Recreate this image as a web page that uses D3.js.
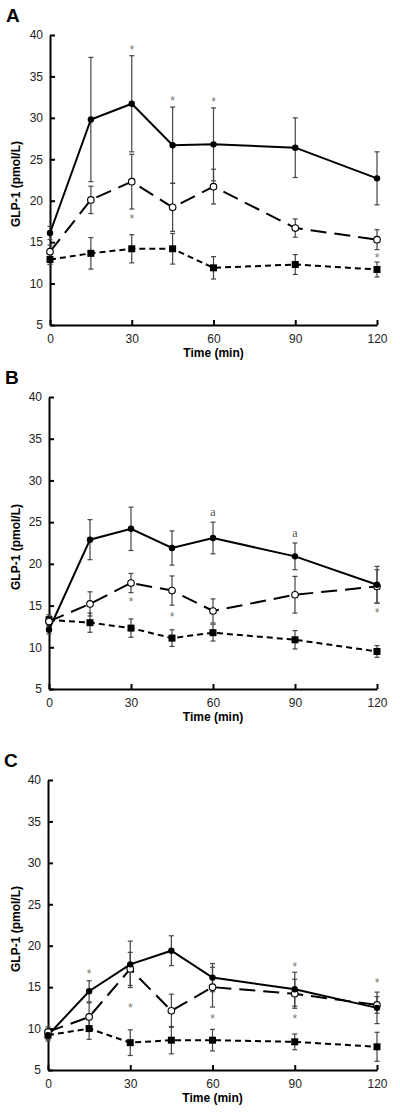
<!DOCTYPE html>
<html><head><meta charset="utf-8">
<script src="https://cdn.jsdelivr.net/npm/d3@7"></script>
<style>body{margin:0;background:#fff}svg{display:block}</style>
</head><body>
<script>
const times = [0, 15, 30, 45, 60, 90, 120];
const xTicks = [0, 30, 60, 90, 120];
const yTicks = [5, 10, 15, 20, 25, 30, 35, 40];
const panelLabels = ["A", "B", "C"];

// Panel A
const aSolid = [16.1, 29.8, 31.7, 26.7, 26.8, 26.4, 22.7];
const aSolidSE = [0.8, 7.5, 5.8, 4.6, 4.4, 3.6, 3.2];
const aOpen = [13.85, 20.1, 22.3, 19.2, 21.7, 16.7, 15.3];
const aOpenSE = [0.8, 1.65, 3.3, 2.9, 2.1, 1.1, 1.2];
const aSquare = [12.9, 13.65, 14.2, 14.2, 11.9, 12.3, 11.7];
const aSquareSE = [0.6, 1.9, 1.7, 1.85, 1.35, 1.2, 0.9];
const aMarks = [{t:30,v:38.4,s:"*"},{t:45,v:32.3,s:"*"},{t:60,v:32.2,s:"*"},{t:30,v:18.0,s:"*"},{t:120,v:13.3,s:"*"}];

// Panel B
const bSolid = [12.1, 22.9, 24.2, 21.9, 23.1, 20.9, 17.5];
const bSolidSE = [0.5, 2.4, 2.6, 2.05, 1.9, 1.6, 2.2];
const bOpen = [13.1, 15.2, 17.7, 16.8, 14.35, 16.3, 17.3];
const bOpenSE = [0.6, 1.45, 1.15, 1.75, 1.45, 2.2, 2.0];
const bSquare = [13.3, 12.95, 12.3, 11.1, 11.75, 10.9, 9.5];
const bSquareSE = [0.6, 1.15, 1.1, 1.0, 1.0, 1.1, 0.7];
const bMarks = [{t:60,v:26.1,s:"a"},{t:90,v:23.6,s:"a"},{t:30,v:15.7,s:"*"},{t:45,v:13.9,s:"*"},{t:60,v:12.8,s:"*"},{t:120,v:14.3,s:"*"}];

// Panel C
const cSolid = [9.2, 14.5, 17.75, 19.4, 16.15, 14.75, 12.5];
const cSolidSE = [0.5, 1.27, 2.8, 1.8, 1.7, 2.05, 1.9];
const cOpen = [9.6, 11.4, 17.2, 12.15, 15.0, 14.2, 12.85];
const cOpenSE = [0.6, 1.7, 2.0, 2.0, 2.4, 1.75, 1.0];
const cSquare = [9.2, 10.0, 8.3, 8.6, 8.6, 8.4, 7.8];
const cSquareSE = [0.7, 1.3, 1.55, 1.65, 1.3, 0.95, 1.75];
const cMarks = [{t:15,v:16.8,s:"*"},{t:30,v:12.7,s:"*"},{t:60,v:11.4,s:"*"},{t:90,v:17.7,s:"*"},{t:90,v:11.4,s:"*"},{t:120,v:15.8,s:"*"}];

const panels = [
  {label: panelLabels[0], solid:aSolid, solidSE:aSolidSE, open:aOpen, openSE:aOpenSE, sq:aSquare, sqSE:aSquareSE, marks:aMarks,
   top:35, bottom:325, left:50, right:377, letterX:6, letterY:22},
  {label: panelLabels[1], solid:bSolid, solidSE:bSolidSE, open:bOpen, openSE:bOpenSE, sq:bSquare, sqSE:bSquareSE, marks:bMarks,
   top:397, bottom:689, left:49, right:377, letterX:5, letterY:384},
  {label: panelLabels[2], solid:cSolid, solidSE:cSolidSE, open:cOpen, openSE:cOpenSE, sq:cSquare, sqSE:cSquareSE, marks:cMarks,
   top:780, bottom:1070, left:48, right:377, letterX:4, letterY:767}
];

const svg = d3.select("body").append("svg").attr("width", 400).attr("height", 1112)
  .style("font-family", "'Liberation Sans', Arial, Helvetica, sans-serif");

panels.forEach(p => {
  const x = d3.scaleLinear().domain([0, 120]).range([p.left, p.right]);
  const y = d3.scaleLinear().domain([5, 40]).range([p.bottom, p.top]);
  const g = svg.append("g");

  g.append("text").attr("x", p.letterX).attr("y", p.letterY).text(p.label)
    .attr("font-size", 19).attr("font-weight", "bold").attr("fill", "#000");

  // axes
  const yAxis = d3.axisLeft(y).tickValues(yTicks).tickSizeInner(-5).tickSizeOuter(0).tickPadding(7);
  const xAxis = d3.axisBottom(x).tickValues(xTicks).tickSizeInner(-5).tickSizeOuter(0).tickPadding(9);
  const ya = g.append("g").attr("transform", `translate(${p.left},0)`).call(yAxis);
  const xa = g.append("g").attr("transform", `translate(0,${p.bottom})`).call(xAxis);
  [ya, xa].forEach(a => {
    a.select(".domain").attr("stroke", "#000").attr("stroke-width", 2);
    a.selectAll(".tick line").attr("stroke", "#000").attr("stroke-width", 2);
    a.selectAll(".tick text").attr("font-size", 12).attr("fill", "#222").attr("font-family", "'Liberation Sans', Arial, sans-serif");
  });

  g.append("text").attr("x", (p.left + p.right) / 2).attr("y", p.bottom + 32)
    .attr("text-anchor", "middle").attr("font-size", 12).attr("font-weight", "bold").text("Time (min)");
  g.append("text").attr("transform", `translate(20,${(p.top + p.bottom) / 2 + 4}) rotate(-90)`)
    .attr("text-anchor", "middle").attr("font-size", 12).attr("font-weight", "bold").text("GLP-1 (pmol/L)");

  const series = [
    {vals:p.sq, se:p.sqSE, dash:"6,4", type:"square"},
    {vals:p.open, se:p.openSE, dash:"16,8", type:"open"},
    {vals:p.solid, se:p.solidSE, dash:null, type:"solid"}
  ];

  // error bars
  series.forEach(s => {
    const eb = g.append("g").attr("stroke", "#444").attr("stroke-width", 1.2);
    times.forEach((t, i) => {
      const lo = y(s.vals[i] - s.se[i]), hi = y(s.vals[i] + s.se[i]), cx = x(t);
      eb.append("line").attr("x1", cx).attr("x2", cx).attr("y1", lo).attr("y2", hi);
      eb.append("line").attr("x1", cx - 2.5).attr("x2", cx + 2.5).attr("y1", lo).attr("y2", lo);
      eb.append("line").attr("x1", cx - 2.5).attr("x2", cx + 2.5).attr("y1", hi).attr("y2", hi);
    });
  });

  // lines
  const line = d3.line().x((d, i) => x(times[i])).y(d => y(d));
  series.forEach(s => {
    g.append("path").datum(s.vals).attr("d", line).attr("fill", "none")
      .attr("stroke", "#000").attr("stroke-width", 2)
      .attr("stroke-dasharray", s.dash);
  });

  // markers
  series.forEach(s => {
    s.vals.forEach((v, i) => {
      const cx = x(times[i]), cy = y(v);
      if (s.type === "square") {
        g.append("rect").attr("x", cx - 3.5).attr("y", cy - 3.5).attr("width", 7).attr("height", 7).attr("fill", "#000");
      } else if (s.type === "open") {
        g.append("circle").attr("cx", cx).attr("cy", cy).attr("r", 3.3).attr("fill", "#fff").attr("stroke", "#000").attr("stroke-width", 1.1);
      } else {
        g.append("circle").attr("cx", cx).attr("cy", cy).attr("r", 3.2).attr("fill", "#000");
      }
    });
  });

  // significance marks
  p.marks.forEach(m => {
    const isA = m.s === "a";
    g.append("text").attr("x", x(m.t)).attr("y", y(m.v) + (isA ? 3.5 : 6))
      .attr("text-anchor", "middle").attr("fill", isA ? "#555" : "#777")
      .attr("font-size", isA ? 12 : 12)
      .attr("font-family", isA ? "'Liberation Serif', serif" : "'Liberation Sans', Arial, sans-serif")
      .text(m.s);
  });
});
</script>
</body></html>
